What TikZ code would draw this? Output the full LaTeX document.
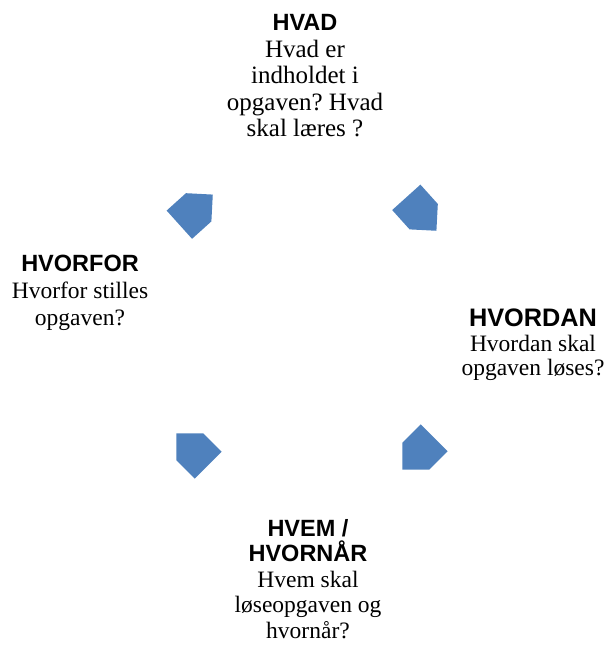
\documentclass[tikz,border=0pt]{standalone}
\usepackage{fontspec}
\setmainfont{Liberation Serif}
\newfontfamily\headfont{Liberation Sans}[BoldFont={Liberation Sans Bold}]
\usepackage{xcolor}
\usetikzlibrary{shapes.symbols}
\definecolor{pilblaa}{RGB}{79,129,189}
\newcommand\overskrift[2]{{\headfont\bfseries\fontsize{#1}{27}\selectfont #2}}
\frenchspacing

\begin{document}
\begin{tikzpicture}[x=1pt,y=-1pt,
  txt/.style={align=center,inner sep=0pt},
  pil/.style={signal,signal to=east,signal from=nowhere,fill=pilblaa,draw=none,
    minimum width=45pt,minimum height=38pt,inner sep=0pt}]
  \useasboundingbox (0,0) rectangle (606,650);
  % tekstbokse
  \node[txt,font=\fontsize{25}{26.5}\selectfont] (hvad) at (305,76) {\overskrift{23.5}{HVAD}\\Hvad er\\indholdet i\\opgaven? Hvad\\skal læres ?};
  \node[txt,font=\fontsize{23.5}{24.5}\selectfont] (hvordan) at (533,345) {\overskrift{25.3}{HVORDAN}\\Hvordan skal\\opgaven løses?};
  \node[txt,font=\fontsize{23.5}{25.5}\selectfont] (hvem) at (308,579) {\overskrift{23.5}{HVEM /}\\\overskrift{23.5}{HVORNÅR}\\Hvem skal\\løseopgaven og\\hvornår?};
  \node[txt,font=\fontsize{23.5}{27}\selectfont] (hvorfor) at (80,293) {\overskrift{23.5}{HVORFOR}\\Hvorfor stilles\\opgaven?};
  % pile
  \node[pil,rotate=42] (p1) at (189,216) {};
  \node[pil,rotate=-48] (p2) at (415,207) {};
  \node[pil,rotate=-135] (p3) at (425,447) {};
  \node[pil,rotate=135] (p4) at (199,456) {};
\end{tikzpicture}
\end{document}
